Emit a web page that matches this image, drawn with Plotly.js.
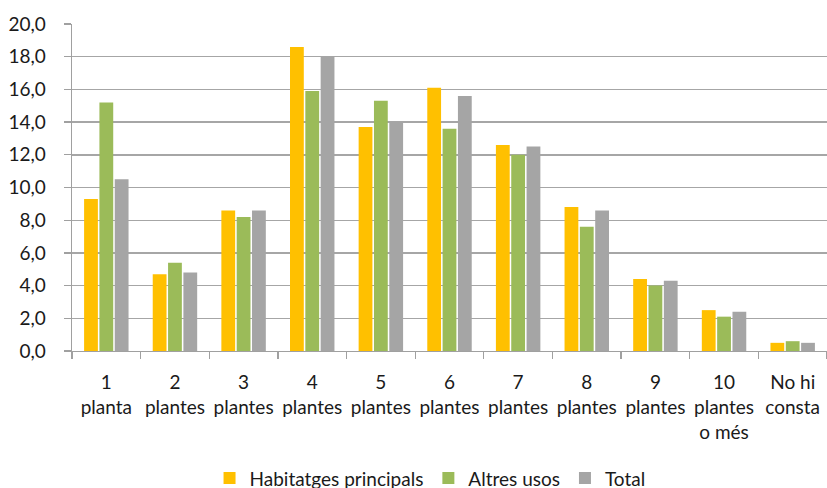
<!DOCTYPE html>
<html>
<head>
<meta charset="utf-8">
<script src="https://cdn.plot.ly/plotly-3.0.1.min.js"></script>
<style>
  html, body { margin: 0; padding: 0; background: #fff; }
  #chart { width: 827px; height: 488px; }
</style>
</head>
<body>
<div id="chart"></div>
<script>
// Distribució d'edificis segons el nombre de plantes (%)
const categories = [
  "1<br>planta", "2<br>plantes", "3<br>plantes", "4<br>plantes", "5<br>plantes",
  "6<br>plantes", "7<br>plantes", "8<br>plantes", "9<br>plantes",
  "10<br>plantes<br>o més", "No hi<br>consta"
];
const habitatgesPrincipals = [9.3, 4.7, 8.6, 18.6, 13.7, 16.1, 12.6, 8.8, 4.4, 2.5, 0.5];
const altresUsos           = [15.2, 5.4, 8.2, 15.9, 15.3, 13.6, 12.0, 7.6, 4.0, 2.1, 0.6];
const total                = [10.5, 4.8, 8.6, 18.0, 14.0, 15.6, 12.5, 8.6, 4.3, 2.4, 0.5];
const yTicks = [0, 2, 4, 6, 8, 10, 12, 14, 16, 18, 20];

const fontFamily = "Lato, 'Open Sans', sans-serif";

function barTrace(name, values, color) {
  return {
    type: "bar",
    name: name,
    x: categories,
    y: values,
    marker: { color: color, line: { width: 0 } },
    hoverinfo: "x+y+name"
  };
}

const data = [
  barTrace("Habitatges principals", habitatgesPrincipals, "#FFC000"),
  barTrace("Altres usos", altresUsos, "#9BBB59"),
  barTrace("Total", total, "#A5A5A5")
];

const layout = {
  width: 827,
  height: 488,
  margin: { l: 72, r: 0, t: 24, b: 137 },
  paper_bgcolor: "#ffffff",
  plot_bgcolor: "#ffffff",
  separators: ",.",
  font: { family: fontFamily, size: 19, color: "#1a1a1a" },
  barmode: "group",
  bargap: 0.33,
  bargroupgap: 0.1,
  showlegend: true,
  legend: {
    orientation: "h",
    x: 0.52,
    xanchor: "center",
    xref: "container",
    y: 0.02,
    yref: "container",
    yanchor: "middle",
    font: { family: fontFamily, size: 19, color: "#1a1a1a" },
    itemclick: false,
    traceorder: "normal"
  },
  xaxis: {
    type: "category",
    tickson: "boundaries",
    ticks: "outside",
    ticklen: 7,
    tickwidth: 1.3,
    tickcolor: "#a0a0a0",
    showline: true,
    linecolor: "#a0a0a0",
    linewidth: 1.3,
    showgrid: false,
    tickangle: 0,
    automargin: false,
    ticklabelstandoff: 14,
    tickfont: { family: fontFamily, size: 19, color: "#1a1a1a" },
    fixedrange: true
  },
  yaxis: {
    range: [0, 20],
    tickvals: yTicks,
    tickformat: ".1f",
    ticks: "outside",
    ticklen: 7,
    tickwidth: 1.3,
    tickcolor: "#a0a0a0",
    showline: true,
    linecolor: "#a0a0a0",
    linewidth: 1.3,
    showgrid: true,
    gridcolor: "#a6a6a6",
    gridwidth: 1.4,
    zeroline: false,
    automargin: false,
    ticklabelstandoff: 14,
    tickfont: { family: fontFamily, size: 19, color: "#1a1a1a" },
    fixedrange: true
  }
};

Plotly.newPlot("chart", data, layout, { displayModeBar: false, staticPlot: true });
</script>
</body>
</html>
